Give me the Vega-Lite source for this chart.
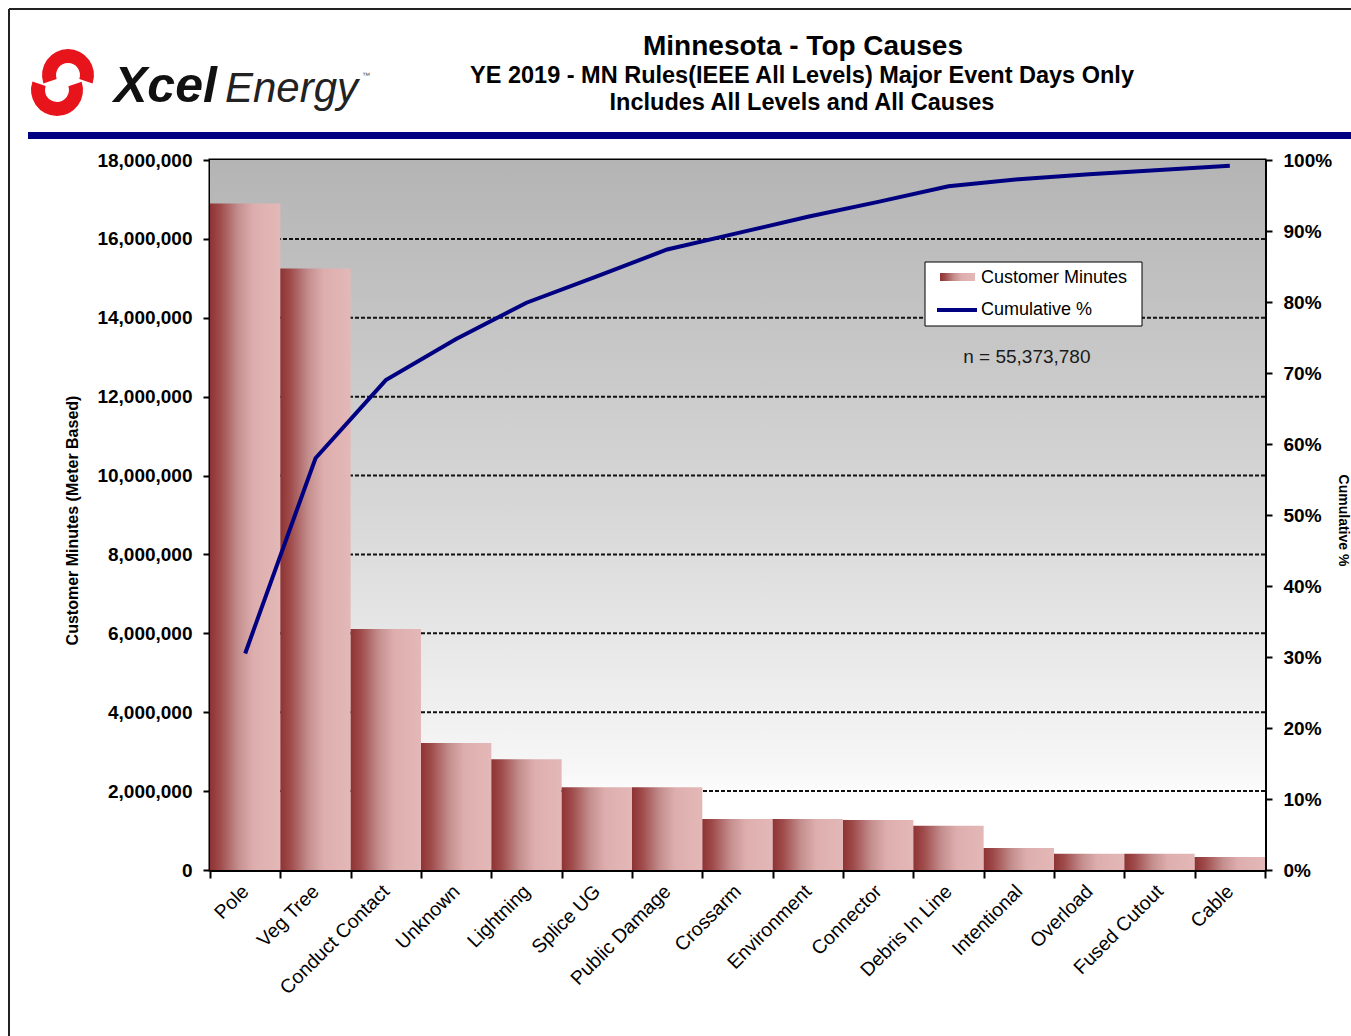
{
  "$schema": "https://vega.github.io/schema/vega-lite/v6.json",
  "width": 1055,
  "height": 710,
  "autosize": {"type": "none"},
  "padding": {"left": 210, "top": 160, "right": 86, "bottom": 166},
  "background": "white",
  "config": {"font": "Liberation Sans", "view": {"stroke": "black", "strokeWidth": 3}},
  "datasets": {
    "causes": [
      {"cause": "Pole", "minutes": 16900000, "cum": 30.5},
      {"cause": "Veg Tree", "minutes": 15250000, "cum": 58.0},
      {"cause": "Conduct Contact", "minutes": 6110000, "cum": 69.0},
      {"cause": "Unknown", "minutes": 3220000, "cum": 74.8},
      {"cause": "Lightning", "minutes": 2810000, "cum": 79.9},
      {"cause": "Splice UG", "minutes": 2100000, "cum": 83.6},
      {"cause": "Public Damage", "minutes": 2100000, "cum": 87.4},
      {"cause": "Crossarm", "minutes": 1290000, "cum": 89.7},
      {"cause": "Environment", "minutes": 1290000, "cum": 92.0},
      {"cause": "Connector", "minutes": 1270000, "cum": 94.1},
      {"cause": "Debris In Line", "minutes": 1120000, "cum": 96.3},
      {"cause": "Intentional", "minutes": 560000, "cum": 97.3},
      {"cause": "Overload", "minutes": 410000, "cum": 98.0},
      {"cause": "Fused Cutout", "minutes": 410000, "cum": 98.6},
      {"cause": "Cable", "minutes": 330000, "cum": 99.2}
    ],
    "grid": [
      {"v": 2000000}, {"v": 4000000}, {"v": 6000000}, {"v": 8000000},
      {"v": 10000000}, {"v": 12000000}, {"v": 14000000}, {"v": 16000000}
    ],
    "bg": [{"lo": 0, "hi": 18000000}],
    "one": [{"label": "n = 55,373,780", "cause": "Intentional", "pos": 13000000}]
  },
  "layer": [
    {
      "layer": [
        {
          "data": {"name": "bg"},
          "mark": {
            "type": "rect",
            "color": {
              "gradient": "linear", "x1": 0, "y1": 0, "x2": 0, "y2": 1,
              "stops": [
                {"offset": 0, "color": "#b4b4b4"},
                {"offset": 0.5, "color": "#d8d8d8"},
                {"offset": 0.86, "color": "#f7f7f7"},
                {"offset": 0.9, "color": "#ffffff"},
                {"offset": 1, "color": "#ffffff"}
              ]
            }
          },
          "encoding": {
            "y": {
              "field": "hi", "type": "quantitative",
              "scale": {"domain": [0, 18000000], "nice": false},
              "axis": {
                "title": "Customer Minutes (Meter Based)",
                "values": [0, 2000000, 4000000, 6000000, 8000000, 10000000, 12000000, 14000000, 16000000, 18000000],
                "format": ",d",
                "labelFont": "Liberation Sans", "labelFontWeight": "bold", "labelFontSize": 19, "labelColor": "black",
                "labelPadding": 11, "tickSize": 7, "tickColor": "black", "tickWidth": 2,
                "domainColor": "black", "domainWidth": 3, "grid": false,
                "titleFont": "Liberation Sans", "titleFontSize": 16, "titleFontWeight": "bold", "titleColor": "black",
                "titleAngle": -90, "titleX": -138, "titleY": 360, "titleAlign": "center", "titleBaseline": "middle"
              }
            },
            "y2": {"field": "lo"}
          }
        },
        {
          "data": {"name": "grid"},
          "mark": {"type": "rule", "color": "#111111", "strokeWidth": 2, "strokeDash": [4, 2]},
          "encoding": {
            "y": {"field": "v", "type": "quantitative", "title": "Customer Minutes (Meter Based)"}
          }
        },
        {
          "data": {"name": "causes"},
          "mark": {
            "type": "bar",
            "color": {
              "gradient": "linear", "x1": 0, "y1": 0, "x2": 1, "y2": 0,
              "stops": [
                {"offset": 0, "color": "#8e3333"},
                {"offset": 0.15, "color": "#a04c4c"},
                {"offset": 0.4, "color": "#c48e8e"},
                {"offset": 0.62, "color": "#deaeae"},
                {"offset": 1, "color": "#e4b8b8"}
              ]
            }
          },
          "encoding": {
            "x": {
              "field": "cause", "type": "nominal", "sort": null,
              "scale": {"paddingInner": 0, "paddingOuter": 0},
              "axis": {
                "title": null, "labelAngle": -45, "labelAlign": "right", "labelBaseline": "middle",
                "labelFont": "Liberation Sans", "labelFontSize": 19.5, "labelColor": "black", "labelPadding": 10,
                "labelOverlap": false, "tickBand": "extent", "tickSize": 8, "tickColor": "black", "tickWidth": 2,
                "domainColor": "black", "domainWidth": 3
              }
            },
            "y": {"field": "minutes", "type": "quantitative", "title": "Customer Minutes (Meter Based)"}
          }
        },
        {
          "data": {"name": "one"},
          "mark": {"type": "text", "fontSize": 19, "color": "#1a1a1a", "dx": 8, "font": "Liberation Sans"},
          "encoding": {
            "x": {"field": "cause", "type": "nominal", "sort": null},
            "y": {"field": "pos", "type": "quantitative", "title": "Customer Minutes (Meter Based)"},
            "text": {"field": "label"}
          }
        }
      ]
    },
    {
      "data": {"name": "causes"},
      "mark": {"type": "line", "strokeWidth": 4, "color": "#000080"},
      "encoding": {
        "x": {"field": "cause", "type": "nominal", "sort": null},
        "y": {
          "field": "cum", "type": "quantitative",
          "scale": {"domain": [0, 100], "nice": false},
          "axis": {
            "orient": "right", "title": "Cumulative %",
            "values": [0, 10, 20, 30, 40, 50, 60, 70, 80, 90, 100],
            "labelExpr": "datum.value + '%'",
            "labelFont": "Liberation Sans", "labelFontWeight": "bold", "labelFontSize": 19, "labelColor": "black",
            "labelPadding": 11, "tickSize": 7, "tickColor": "black", "tickWidth": 2,
            "domainColor": "black", "domainWidth": 3, "grid": false,
            "titleFont": "Liberation Sans", "titleFontSize": 14, "titleFontWeight": "bold", "titleColor": "black",
            "titleAngle": 90, "titleX": 77, "titleY": 360, "titleAlign": "center", "titleBaseline": "middle"
          }
        }
      }
    },
    {
      "data": {"values": [{}]},
      "mark": {"type": "rect", "fill": "white", "stroke": "black", "strokeWidth": 1},
      "encoding": {"x": {"value": 715}, "x2": {"value": 932}, "y": {"value": 102}, "y2": {"value": 166}}
    },
    {
      "data": {"values": [{}]},
      "mark": {
        "type": "rect",
        "color": {
          "gradient": "linear", "x1": 0, "y1": 0, "x2": 1, "y2": 0,
          "stops": [
            {"offset": 0, "color": "#8e3333"},
            {"offset": 0.15, "color": "#a04c4c"},
            {"offset": 0.4, "color": "#c48e8e"},
            {"offset": 0.62, "color": "#deaeae"},
            {"offset": 1, "color": "#e4b8b8"}
          ]
        }
      },
      "encoding": {"x": {"value": 730}, "x2": {"value": 765}, "y": {"value": 113}, "y2": {"value": 121}}
    },
    {
      "data": {"values": [{}]},
      "mark": {"type": "rule", "color": "#000080", "strokeWidth": 4},
      "encoding": {"x": {"value": 727}, "x2": {"value": 767}, "y": {"value": 150}}
    },
    {
      "data": {"values": [{}]},
      "mark": {"type": "text", "text": "Customer Minutes", "font": "Liberation Sans", "fontSize": 18, "align": "left", "baseline": "middle", "color": "black"},
      "encoding": {"x": {"value": 771}, "y": {"value": 118}}
    },
    {
      "data": {"values": [{}]},
      "mark": {"type": "text", "text": "Cumulative %", "font": "Liberation Sans", "fontSize": 18, "align": "left", "baseline": "middle", "color": "black"},
      "encoding": {"x": {"value": 771}, "y": {"value": 150}}
    },
    {
      "data": {"values": [{}]},
      "mark": {"type": "rule", "color": "#222222", "strokeWidth": 2},
      "encoding": {"x": {"value": -201}, "y": {"value": -151}, "y2": {"value": 876}}
    },
    {
      "data": {"values": [{}]},
      "mark": {"type": "rule", "color": "#222222", "strokeWidth": 2},
      "encoding": {"x": {"value": -201}, "x2": {"value": 1141}, "y": {"value": -151}}
    },
    {
      "data": {"values": [{}]},
      "mark": {"type": "rule", "color": "#000080", "strokeWidth": 7, "strokeCap": "butt"},
      "encoding": {"x": {"value": -182}, "x2": {"value": 1141}, "y": {"value": -24.5}}
    },
    {
      "data": {"values": [{}]},
      "mark": {"type": "arc", "color": "#e8141c", "x": -142, "y": -85, "radius": 26, "radius2": 12, "theta": -1.9, "theta2": 1.9}
    },
    {
      "data": {"values": [{}]},
      "mark": {"type": "arc", "color": "#e8141c", "x": -153, "y": -70, "radius": 26, "radius2": 12, "theta": 1.25, "theta2": 5.05}
    },
    {
      "data": {"values": [{}]},
      "mark": {"type": "text", "text": "Xcel", "font": "Liberation Sans", "fontWeight": "bold", "fontStyle": "italic", "fontSize": 50, "align": "left", "baseline": "alphabetic", "color": "#111111"},
      "encoding": {"x": {"value": -96}, "y": {"value": -58}}
    },
    {
      "data": {"values": [{}]},
      "mark": {"type": "text", "text": "Energy", "font": "Liberation Sans", "fontStyle": "italic", "fontSize": 42, "align": "left", "baseline": "alphabetic", "color": "#222222"},
      "encoding": {"x": {"value": 15}, "y": {"value": -58}}
    },
    {
      "data": {"values": [{}]},
      "mark": {"type": "text", "text": "™", "font": "Liberation Sans", "fontSize": 8, "align": "left", "baseline": "alphabetic", "color": "#555555"},
      "encoding": {"x": {"value": 152}, "y": {"value": -82}}
    },
    {
      "data": {"values": [{}]},
      "mark": {"type": "text", "text": "Minnesota - Top Causes", "font": "Liberation Sans", "fontWeight": "bold", "fontSize": 28, "align": "center", "baseline": "middle", "color": "black"},
      "encoding": {"x": {"value": 593}, "y": {"value": -113}}
    },
    {
      "data": {"values": [{}]},
      "mark": {"type": "text", "text": "YE 2019 - MN Rules(IEEE All Levels) Major Event Days Only", "font": "Liberation Sans", "fontWeight": "bold", "fontSize": 23.5, "align": "center", "baseline": "middle", "color": "black"},
      "encoding": {"x": {"value": 592}, "y": {"value": -84}}
    },
    {
      "data": {"values": [{}]},
      "mark": {"type": "text", "text": "Includes All Levels and All Causes", "font": "Liberation Sans", "fontWeight": "bold", "fontSize": 23.5, "align": "center", "baseline": "middle", "color": "black"},
      "encoding": {"x": {"value": 592}, "y": {"value": -57}}
    }
  ],
  "resolve": {"scale": {"y": "independent"}}
}
